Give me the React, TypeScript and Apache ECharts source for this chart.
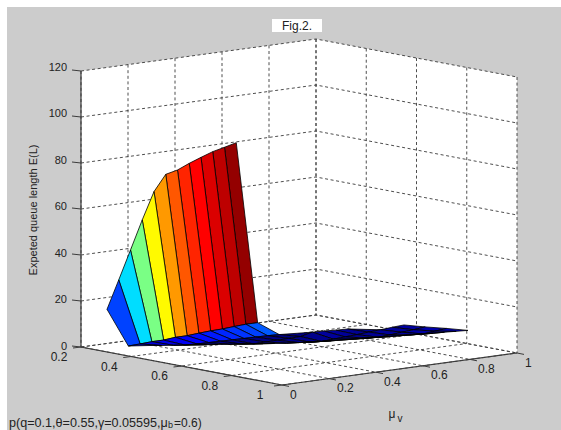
import React, { useEffect, useRef } from "react";
import * as echarts from "echarts";

const muTicks = [0.2, 0.4, 0.6, 0.8, 1];
const nuTicks = [0, 0.2, 0.4, 0.6, 0.8, 1];
const zTicks = [0, 20, 40, 60, 80, 100, 120];

const muValues = [0.21, 0.295, 0.381, 0.466, 0.55, 0.635, 0.72, 0.805];
const nuValues = [0.1, 0.15, 0.2, 0.25, 0.3, 0.35, 0.4, 0.45, 0.5, 0.55, 0.6, 0.65, 0.7, 0.75, 0.8, 0.85, 0.9, 0.95, 1];
const N = null;
const row0 = [15.2, 27.3, 39.6, 52, 63.6, 70.4, 71.6, 73.8, 75.7, 77.5, 78.7, 80, N, N, N, N, N, N, N];
const row1 = [1, 1.2, 1.5, 1.5, 2, 2, 2.4, 2.7, 2.85, 3.2, 3.5, 3.5, N, N, N, N, N, N, N];
const row2 = [3, 2.3, 1.7, 1.1, 0.9, 0.8, 0.7, 0.6, 0.5, 0.4, 0.3, 0.1, N, N, N, N, N, N, N];
const row3 = [N, N, N, 3, 2.4, 1.8, 1.2, 0.6, 0.7, 0.8, 0.9, 1, 2.2, 2, 1.7, 1.5, N, N, N];
const row4 = [N, N, N, N, N, N, 3.1, 2.5, 1.9, 1.5, 1, 0.6, 0.9, 1.2, 1.5, 1.9, 2.2, 2.6, 2.9];
const row5 = [N, N, N, N, N, N, N, N, N, 3.7, 3.3, 3, 2.7, 2.4, 2.1, 2.4, 2.9, 3.3, 3.8];
const row6 = [N, N, N, N, N, N, N, N, N, N, N, N, 5.2, 4.8, 4.5, 4.2, 3.9, 4.4, 4.9];
const row7 = [N, N, N, N, N, N, N, N, N, N, N, N, N, N, N, 6.6, 6.4, 6.1, 5.8];
const zRows = [row0, row1, row2, row3, row4, row5, row6, row7];
const wallTone = [15.2, 27.3, 39.6, 50.4, 58, 63.2, 67.2, 70, 72.8, 75.2, 78.4];
const footTone = [6, 7, 8, 9, 10, 11, 12, 13, 14, 15, 17];

const title = "Fig.2.";
const zLabel = "Expeted queue length E(L)";
const noteHead = "p(q=0.1,θ=0.55,γ=0.05595,μ";
const noteSub = "b";
const noteTail = "=0.6)";

const FONT = "'Liberation Sans', Arial, sans-serif";

// orthographic view of the MATLAB box
const project = (mu: number, nu: number, z: number): [number, number] => {
  const u = (mu - 0.2) / 0.8;
  return [81 + 201 * u + 235 * nu, 347 + 38 * u - 32 * nu - 2.3 * z];
};

const jet = (t: number) => {
  const c = (v: number) => Math.round(255 * Math.max(0, Math.min(1, v)));
  const r = 1.5 - Math.abs(4 * t - 3);
  const g = 1.5 - Math.abs(4 * t - 2);
  const b = 1.5 - Math.abs(4 * t - 1);
  return `rgb(${c(r)},${c(g)},${c(b)})`;
};

type Item = { kind: string; pts: [number, number][]; stroke?: string; fill?: string; width?: number; dash?: number[] };
const items: Item[] = [];

const GRID = "#3a3a3a";
const dashed = (pts: [number, number][]) => items.push({ kind: "line", pts, stroke: GRID, width: 0.9, dash: [3, 2.6] });
const solid = (pts: [number, number][], width = 1.2) => items.push({ kind: "line", pts, stroke: "#3c3c3c", width });

// white box walls and floor
items.push({
  kind: "fill",
  pts: [project(0.2, 0, 120), project(0.2, 1, 120), project(1, 1, 120), project(1, 1, 0), project(1, 0, 0), project(0.2, 0, 0)],
  fill: "#ffffff",
});
// grid
for (const z of zTicks) dashed([project(0.2, 0, z), project(0.2, 1, z), project(1, 1, z)]);
for (const nu of nuTicks) {
  dashed([project(0.2, nu, 120), project(0.2, nu, 0), project(1, nu, 0)]);
}
for (const mu of muTicks) {
  dashed([project(mu, 1, 120), project(mu, 1, 0), project(mu, 0, 0)]);
}
// surface, far cells first
for (let i = 0; i < zRows.length - 1; i++) {
  for (let j = nuValues.length - 2; j >= 0; j--) {
    const corners: [number, number][] = [[i, j], [i, j + 1], [i + 1, j + 1], [i + 1, j]];
    const valid = corners.filter(([r, c]) => zRows[r][c] !== null);
    if (valid.length < 3) continue;
    const pts = valid.map(([r, c]) => project(muValues[r], nuValues[c], zRows[r][c] as number));
    const tone = i === 0 ? wallTone[j] : i === 1 ? footTone[j] : (zRows[valid[0][0]][valid[0][1]] as number);
    items.push({ kind: "cell", pts, fill: jet(tone / 80), stroke: "#000000", width: 0.8 });
  }
}
// axis lines and ticks
solid([project(0.2, 0, 120), project(0.2, 0, 0), project(1, 0, 0), project(1, 1, 0)]);
for (const z of zTicks) {
  const [x, y] = project(0.2, 0, z);
  solid([[x - 9, y - 1], [x, y]], 1);
}
for (const mu of muTicks) {
  const [x, y] = project(mu, 0, 0);
  solid([[x - 8, y + 1], [x, y]], 1);
}
for (const nu of nuTicks) {
  const [x, y] = project(1, nu, 0);
  solid([[x + 7, y + 1.4], [x, y]], 1);
}

const text = (t: string, x: number, y: number, extra: any = {}) => ({
  type: "text",
  x,
  y,
  z: 10,
  silent: true,
  rotation: extra.rotation ?? 0,
  style: {
    text: t,
    fill: extra.fill ?? "#222222",
    font: `${extra.size ?? 12}px ${FONT}`,
    align: extra.align ?? "center",
    verticalAlign: "middle",
  },
});

const graphics: any[] = [
  { type: "rect", z: 0, silent: true, shape: { x: 7, y: 7, width: 554, height: 423 }, style: { fill: "#cccccc" } },
  { type: "rect", z: 9, silent: true, shape: { x: 272, y: 19, width: 50, height: 13 }, style: { fill: "#ffffff" } },
  text(title, 297, 26),
  text(zLabel, 33, 210, { rotation: Math.PI / 2, size: 11 }),
  text("μ", 392, 414),
  text("v", 400, 418, { size: 10 }),
  text(noteHead, 9, 423, { align: "left", size: 12.6 }),
  text(noteSub, 168, 425, { align: "left", size: 9 }),
  text(noteTail, 174, 423, { align: "left" }),
];
for (const z of zTicks) {
  const [x, y] = project(0.2, 0, z);
  graphics.push(text(String(z), x - 14, y - 1.5 - z / 48, { align: "right", size: 11 }));
}
for (const mu of muTicks) {
  const [x, y] = project(mu, 0, 0);
  graphics.push(text(String(mu), x - 22, y + 10));
}
for (const nu of nuTicks) {
  const [x, y] = project(1, nu, 0);
  graphics.push(text(String(nu), x + 8, y + 9.5, { align: "left" }));
}

export default function App() {
  const ref = useRef<HTMLDivElement>(null);
  useEffect(() => {
    const chart = echarts.init(ref.current as HTMLDivElement, undefined, { renderer: "svg" });
    chart.setOption({
      animation: false,
      backgroundColor: "#ffffff",
      grid: { left: 0, right: 0, top: 0, bottom: 0 },
      xAxis: { type: "value", min: 0, max: 561, show: false },
      yAxis: { type: "value", min: 0, max: 430, inverse: true, show: false },
      graphic: graphics,
      series: [
        {
          type: "custom",
          coordinateSystem: "cartesian2d",
          clip: false,
          silent: true,
          z: 2,
          data: items.map((_, i) => [i, 0]),
          renderItem: (params: any, api: any) => {
            const it = items[params.dataIndex];
            const points = it.pts.map((p) => api.coord(p));
            if (it.kind === "line") {
              return {
                type: "polyline",
                shape: { points },
                style: { stroke: it.stroke, lineWidth: it.width, lineDash: it.dash, fill: "none" },
              };
            }
            return {
              type: "polygon",
              shape: { points },
              style: { fill: it.fill, stroke: it.stroke ?? "none", lineWidth: it.width ?? 0 },
            };
          },
        },
      ],
    });
    return () => chart.dispose();
  }, []);
  return <div ref={ref} style={{ position: "absolute", left: 0, top: 0, width: 561, height: 430 }} />;
}
